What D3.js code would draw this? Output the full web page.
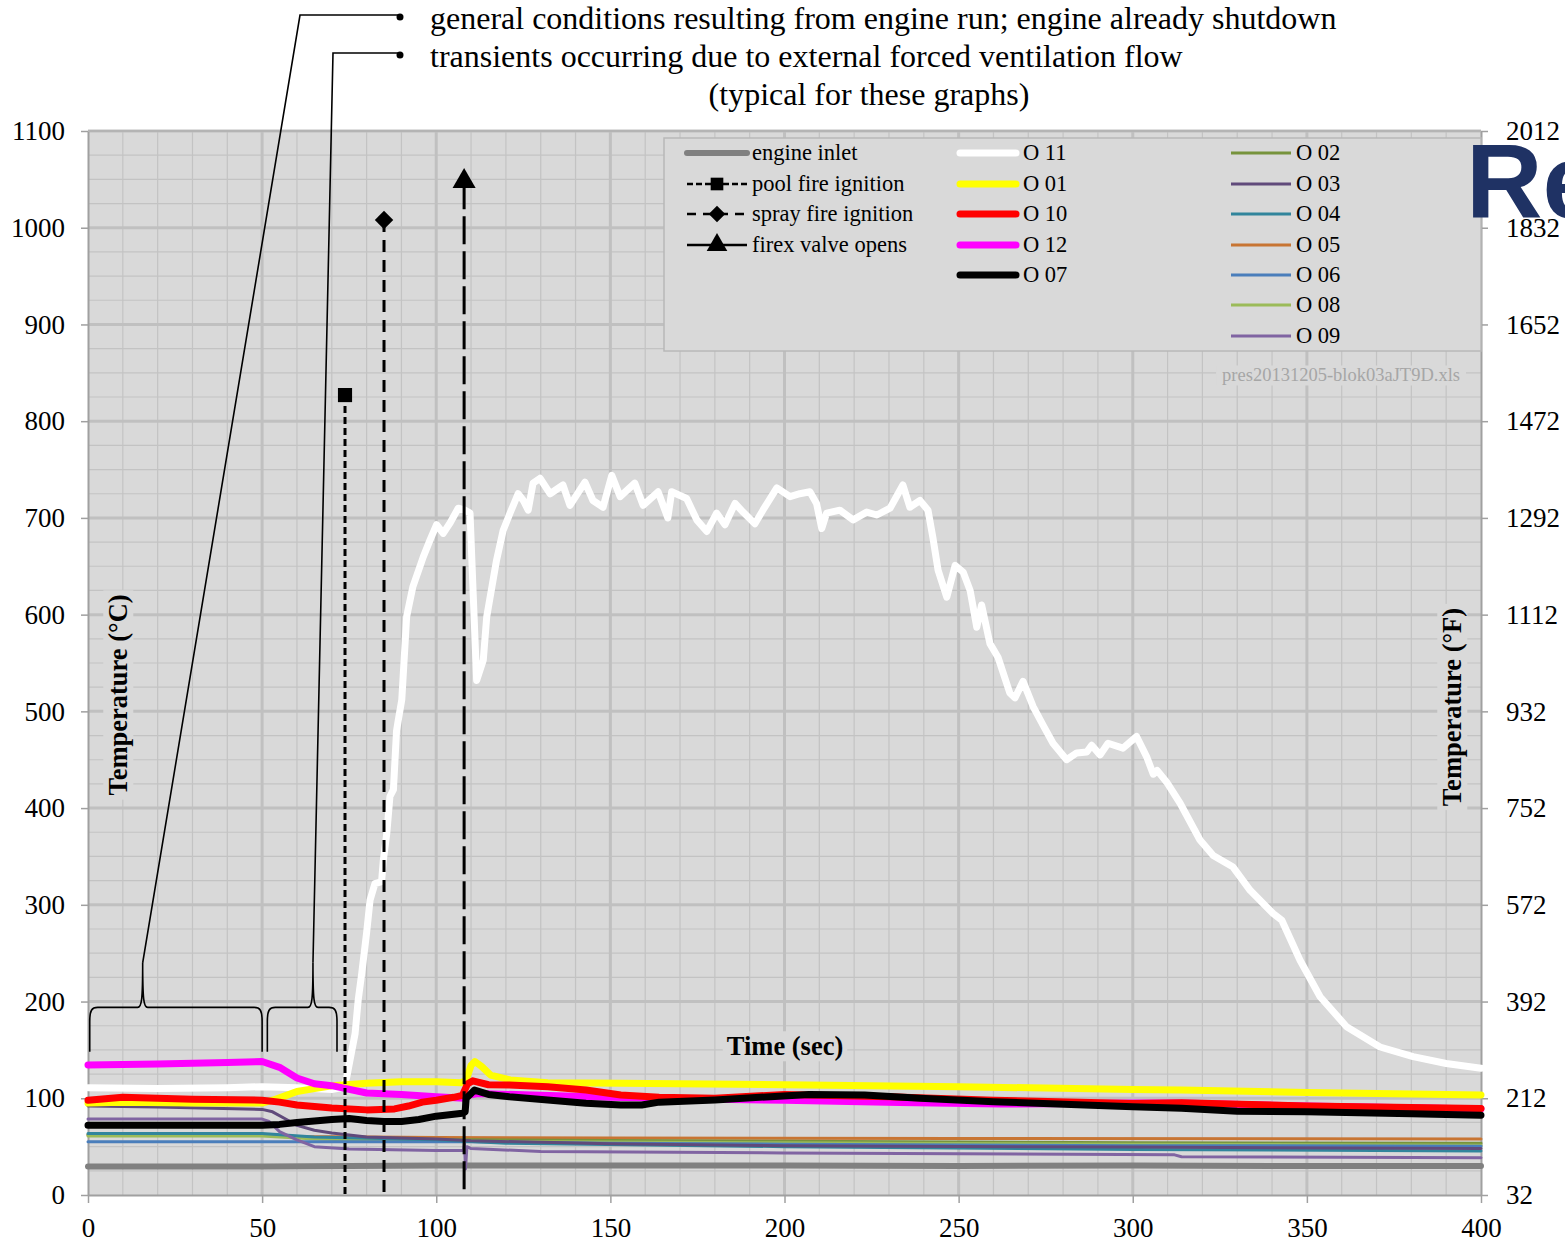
<!DOCTYPE html>
<html>
<head>
<meta charset="utf-8">
<script src="https://cdn.jsdelivr.net/npm/d3@7"></script>
<style>
  body { margin: 0; background: #fff; }
  svg { display: block; }
</style>
</head>
<body>
<svg class="svg"></svg>
<script>
// [time (sec), temperature (°C)]
const o11 = [[0,111],[20,110],[40,111],[50,112],[60,111],[70,109],[73,111],[74,118],[74.3,122],[76.7,167],[77.6,202],[78.6,229],[80,271],[81,305],[82.4,322],[84.3,324],[84.8,346],[85.8,374],[86.7,412],[87.7,419],[88.6,480],[89.1,491],[90.1,512],[91.5,598],[93.3,629],[96.3,660],[98.2,677],[100.1,693],[102,684],[104,695],[106.3,710],[108.3,708],[109.7,705],[110.6,622],[111.6,532],[113.5,553],[114.5,598],[117.3,656],[119.2,687],[121.2,705],[123.5,725],[125,718],[126.4,708],[127.8,736],[129.8,741],[132.7,725],[136.4,734],[138.4,713],[142.7,737],[145,718],[147.9,711],[150.4,744],[152.8,722],[157,736],[159.4,713],[163.7,727],[166.5,700],[167.6,727],[171.9,720],[174.8,698],[177.7,686],[180.5,705],[182.9,693],[185.8,715],[188.1,706],[191.5,694],[193.8,708],[197.8,731],[201.6,722],[204.4,725],[207.3,727],[209.2,715],[210.7,689],[212.1,705],[215.9,708],[219.7,698],[223.6,706],[226.5,703],[230.3,710],[234,734],[236,711],[238.9,718],[241.2,708],[242.6,680],[244.1,646],[246.6,618],[249,651],[251.3,644],[253.3,625],[255.2,587],[256.6,610],[259,570],[261.3,556],[264.7,519],[266.2,514],[268.5,531],[271.4,505],[274.2,486],[277.1,467],[281,450],[283.9,457],[286.8,458],[288.2,465],[290.6,455],[292.9,467],[297.2,462],[301.1,474],[304,453],[305.9,435],[307,439],[309.7,427],[313.6,405],[319.3,367],[323.1,351],[328.8,339],[333.7,315],[340.3,291],[342.8,284],[348,243],[353.8,205],[361.4,174],[371,153],[380.5,143],[390,136],[400,131]];
const o01 = [[0,95],[10,96],[30,95],[50,95],[53,98],[57,103],[60,107],[65,110],[70,113],[80,115.5],[90,117],[100,117],[107,116],[108.5,118],[110,134],[111.1,138],[113,133],[115.6,124],[121.2,119],[132,116],[153,115.5],[200,114],[250,112],[300,109],[314,108.5],[350,106],[400,103.5]];
const o10 = [[0,98],[10,101],[30,99],[50,98],[55,96],[60,93],[70,90],[80,88],[88,89],[92,92],[96,96],[100,98],[105,101],[107.5,103],[109,115],[110.5,118],[115,114],[121,113.7],[132,112],[143,108.5],[153,103.4],[164,101],[180,100],[200,104],[230,101.5],[260,98],[300,94.5],[314,95.5],[350,92],[400,89.5]];
const o12 = [[0,134.5],[20,135.5],[40,137],[50,138],[55,132],[60,121],[65,115],[70,113],[80,105.5],[90,104],[100,101.5],[108,100],[109,103],[112,105],[130,103],[150,101],[180,99],[200,98],[233,95.5],[262,94],[300,95],[314,95],[350,92],[400,89]];
const o07 = [[0,72],[50,72],[55,73],[60,75],[70,78],[75,79],[80,77],[85,76],[90,76],[95,78],[100,81.5],[107.5,84.5],[108.3,86],[108.6,100],[110,105],[111,108.5],[115,104],[121,101.6],[132,98.2],[143,94.8],[153,93],[159,93],[164,96],[180,98.2],[196,101.6],[207,104],[223,103.4],[239,100],[260,96.5],[300,91.3],[314,89.6],[330,86.5],[350,86],[380,84],[400,82.5]];
const engineInlet = [[0,29.5],[50,29.5],[100,30.5],[150,30.5],[200,30.5],[250,30],[300,30.5],[350,30],[400,30]];
const o02 = [[0,62.5],[50,62.5],[55,61],[65,59],[80,57.5],[110,57],[200,55.5],[300,54],[400,53.5]];
const o03 = [[0,92],[20,91],[50,88.5],[53,86],[57,78],[60,72],[65,67],[70,64],[80,60],[100,58],[110,56],[150,53],[200,51],[300,49.5],[400,48]];
const o04 = [[0,63.5],[50,63.5],[65,60],[100,57],[120,53.5],[200,50],[300,47],[400,45.5]];
const o05 = [[0,62],[50,62],[60,60.5],[100,59.5],[150,59],[250,58.5],[400,58]];
const o06 = [[0,55],[50,55],[110,55],[150,53.5],[200,52.5],[300,51],[400,50.5]];
const o08 = [[0,61],[50,61],[55,60],[65,58],[80,56.5],[110,55.5],[200,54],[300,52.5],[400,51.5]];
const o09 = [[0,78.5],[50,78.5],[52,76],[55,65.5],[60,57],[65,50],[75,47.5],[100,46],[107.8,46],[108.1,54],[108.4,27],[108.8,50],[110,48],[130,45],[200,43.5],[312,41.5],[314,39.5],[400,38.5]];

// events: time of the vertical line and height of its marker (°C)
const eventNames = ["pool fire ignition", "spray fire ignition", "firex valve opens"];
const eventTimes = [73.8, 85.0, 108.0];
const eventTops = [827, 1008, 1048];

const xTicks = [0, 50, 100, 150, 200, 250, 300, 350, 400];
const yTicks = [0, 100, 200, 300, 400, 500, 600, 700, 800, 900, 1000, 1100];

// brace spans (sec) and tip
const braces = [[0.5, 50, 15.7], [51.5, 71.5, 64.6]];

const W = 1565, H = 1246;
const margin = { top: 131, right: 84, bottom: 51, left: 88 };
const serif = "'Liberation Serif', 'Times New Roman', serif";

const series = [
  { name: "engine inlet", data: engineInlet, color: "#808080", width: 6 },
  { name: "O 05", data: o05, color: "#c87533", width: 3 },
  { name: "O 02", data: o02, color: "#77933c", width: 3 },
  { name: "O 08", data: o08, color: "#9bbb59", width: 3 },
  { name: "O 06", data: o06, color: "#4a7ebb", width: 3 },
  { name: "O 04", data: o04, color: "#31859c", width: 3 },
  { name: "O 03", data: o03, color: "#604a7b", width: 3 },
  { name: "O 09", data: o09, color: "#8064a2", width: 3 },
  { name: "O 11", data: o11, color: "#ffffff", width: 7 },
  { name: "O 01", data: o01, color: "#ffff00", width: 7 },
  { name: "O 12", data: o12, color: "#ff00ff", width: 7 },
  { name: "O 10", data: o10, color: "#ff0000", width: 7 },
  { name: "O 07", data: o07, color: "#000000", width: 7 }
];
const byName = Object.fromEntries(series.map(s => [s.name, s]));

const eventStyle = [
  { dash: "7,4", symbol: d3.symbolSquare, size: 200, rotate: 0, ldash: "6,3" },
  { dash: "12,8", symbol: d3.symbolSquare, size: 170, rotate: 45, ldash: "9,7" },
  { dash: "28,7", symbol: d3.symbolTriangle, size: 230, rotate: 0, ldash: "" }
];

const x = d3.scaleLinear().domain([0, 400]).range([margin.left, W - margin.right]);
const y = d3.scaleLinear().domain([0, 1100]).range([H - margin.bottom, margin.top]);

const svg = d3.select(".svg")
  .attr("width", W)
  .attr("height", H)
  .attr("font-family", serif);

// plot background and grid
svg.append("rect")
  .attr("x", x(0)).attr("y", y(1100))
  .attr("width", x(400) - x(0)).attr("height", y(0) - y(1100))
  .attr("fill", "#d9d9d9");

const grid = svg.append("g");
grid.selectAll(".vmin").data(d3.range(10, 400, 10).filter(d => d % 50)).join("line")
  .attr("x1", d => x(d)).attr("x2", d => x(d))
  .attr("y1", y(0)).attr("y2", y(1100))
  .attr("stroke", "#c3c3c3").attr("stroke-width", 1.2);
grid.selectAll(".hmin").data(d3.range(25, 1100, 25).filter(d => d % 100)).join("line")
  .attr("y1", d => y(d)).attr("y2", d => y(d))
  .attr("x1", x(0)).attr("x2", x(400))
  .attr("stroke", "#c3c3c3").attr("stroke-width", 1.2);
grid.selectAll(".vmaj").data(xTicks.slice(1, -1)).join("line")
  .attr("x1", d => x(d)).attr("x2", d => x(d))
  .attr("y1", y(0)).attr("y2", y(1100))
  .attr("stroke", "#c0c0c0").attr("stroke-width", 3);
grid.selectAll(".hmaj").data(yTicks.slice(1)).join("line")
  .attr("y1", d => y(d)).attr("y2", d => y(d))
  .attr("x1", x(0)).attr("x2", x(400))
  .attr("stroke", "#c0c0c0").attr("stroke-width", 3);

// axes
function styleAxis(g) {
  g.select(".domain").attr("stroke", "#a0a0a0").attr("stroke-width", 2);
  g.selectAll(".tick line").attr("stroke", "#a0a0a0").attr("stroke-width", 1.5);
  g.selectAll(".tick text").attr("font-family", serif).attr("font-size", 27).attr("fill", "#000");
}
svg.append("g")
  .attr("transform", `translate(${x(0)},0)`)
  .call(d3.axisLeft(y).tickValues(yTicks).tickFormat(d3.format("d")).tickSize(7).tickSizeOuter(0).tickPadding(16))
  .call(styleAxis);
svg.append("g")
  .attr("transform", `translate(${x(400)},0)`)
  .call(d3.axisRight(y).tickValues(yTicks).tickFormat(d => Math.round(d * 1.8 + 32)).tickSize(7).tickSizeOuter(0).tickPadding(18))
  .call(styleAxis);
svg.append("g")
  .attr("transform", `translate(0,${y(0)})`)
  .call(d3.axisBottom(x).tickValues(xTicks).tickSize(8).tickSizeOuter(0).tickPadding(15))
  .call(styleAxis);
svg.append("line")
  .attr("x1", x(0)).attr("x2", x(400)).attr("y1", y(1100)).attr("y2", y(1100))
  .attr("stroke", "#b4b4b4").attr("stroke-width", 2);

// axis titles with plot-coloured backing
function label(text, px, py, rot) {
  const g = svg.append("g").attr("transform", `translate(${px},${py}) rotate(${rot})`);
  const t = g.append("text")
    .attr("text-anchor", "middle").attr("dy", "0.35em")
    .attr("font-size", 26.5).attr("font-weight", "bold").text(text);
  const b = t.node().getBBox();
  g.insert("rect", "text").attr("x", b.x - 4).attr("y", b.y).attr("width", b.width + 8).attr("height", b.height).attr("fill", "#d9d9d9");
}
label("Temperature (°C)", 118, 695, -90);
label("Temperature (°F)", 1452, 707, -90);
label("Time (sec)", 785, 1046, 0);

// legend box
const lg = svg.append("g");
lg.append("rect").attr("x", 664).attr("y", 138).attr("width", 817).attr("height", 213)
  .attr("fill", "#d9d9d9").attr("stroke", "#b8b8b8").attr("stroke-width", 1.5);

const wm = svg.append("g");
const wmt = wm.append("text").attr("x", 1460).attr("y", 375).attr("dy", "0.35em")
  .attr("text-anchor", "end").attr("font-size", 18.5).attr("fill", "#a6a6a6")
  .text("pres20131205-blok03aJT9D.xls");
const wb = wmt.node().getBBox();
wm.insert("rect", "text").attr("x", wb.x - 6).attr("y", wb.y).attr("width", wb.width + 12).attr("height", wb.height).attr("fill", "#d9d9d9");

// series lines
const line = d3.line().x(d => x(d[0])).y(d => y(d[1]));
svg.append("g").selectAll("path").data(series).join("path")
  .attr("d", d => line(d.data))
  .attr("fill", "none")
  .attr("stroke", d => d.color)
  .attr("stroke-width", d => d.width)
  .attr("stroke-linejoin", "round")
  .attr("stroke-linecap", "round");

// event lines and markers
const ev = svg.append("g");
eventTimes.forEach((t, i) => {
  const st = eventStyle[i];
  ev.append("line")
    .attr("x1", x(t)).attr("x2", x(t))
    .attr("y1", y(eventTops[i])).attr("y2", y(0))
    .attr("stroke", "#000").attr("stroke-width", 3)
    .attr("stroke-dasharray", st.dash);
  ev.append("path")
    .attr("d", d3.symbol(st.symbol, st.size)())
    .attr("transform", `translate(${x(t)},${y(eventTops[i])}) rotate(${st.rotate})`)
    .attr("fill", "#000");
});

// legend entries
const rowY = [153, 184, 214, 245, 275, 305, 336];
const col1 = ["engine inlet"].concat(eventNames);
const col2 = ["O 11", "O 01", "O 10", "O 12", "O 07"];
const col3 = ["O 02", "O 03", "O 04", "O 05", "O 06", "O 08", "O 09"];
function legendText(px, py, text) {
  lg.append("text").attr("x", px).attr("y", py).attr("dy", "0.33em")
    .attr("font-size", 22.5).attr("fill", "#000").text(text);
}
col1.forEach((n, i) => {
  const py = rowY[i];
  if (i === 0) {
    const s = byName[n];
    lg.append("line").attr("x1", 687).attr("x2", 747).attr("y1", py).attr("y2", py)
      .attr("stroke", s.color).attr("stroke-width", s.width).attr("stroke-linecap", "round");
  } else {
    const st = eventStyle[i - 1];
    lg.append("line").attr("x1", 687).attr("x2", 747).attr("y1", py).attr("y2", py)
      .attr("stroke", "#000").attr("stroke-width", 2.5).attr("stroke-dasharray", st.ldash);
    lg.append("path").attr("d", d3.symbol(st.symbol, st.size * 0.8)())
      .attr("transform", `translate(717,${py}) rotate(${st.rotate})`).attr("fill", "#000");
  }
  legendText(752, py, n);
});
col2.forEach((n, i) => {
  const s = byName[n];
  lg.append("line").attr("x1", 960).attr("x2", 1016).attr("y1", rowY[i]).attr("y2", rowY[i])
    .attr("stroke", s.color).attr("stroke-width", s.width).attr("stroke-linecap", "round");
  legendText(1023, rowY[i], n);
});
col3.forEach((n, i) => {
  const s = byName[n];
  lg.append("line").attr("x1", 1231).attr("x2", 1291).attr("y1", rowY[i]).attr("y2", rowY[i])
    .attr("stroke", s.color).attr("stroke-width", s.width);
  legendText(1296, rowY[i], n);
});

// braces with leader lines
const ann = svg.append("g").attr("fill", "none").attr("stroke", "#000").attr("stroke-width", 1.6);
const braceLow = 148, braceMid = 194, braceTip = 240;
braces.forEach(([a, b, tip]) => {
  const x0 = x(a), x1 = x(b), xt = x(tip);
  const yb = y(braceLow), yh = y(braceMid), yt = y(braceTip);
  ann.append("path").attr("d",
    `M${x0},${yb} L${x0},${yh + 14} C${x0},${yh + 3} ${x0 + 2},${yh} ${x0 + 8},${yh}` +
    ` L${xt - 5},${yh} C${xt - 1},${yh} ${xt},${yh - 8} ${xt},${yt}` +
    ` C${xt},${yh - 8} ${xt + 1},${yh} ${xt + 5},${yh}` +
    ` L${x1 - 8},${yh} C${x1 - 2},${yh} ${x1},${yh + 3} ${x1},${yh + 14} L${x1},${yb}`);
});
const leaders = [[300, 15], [333, 53]];
leaders.forEach(([cx, cy], i) => {
  ann.append("polyline")
    .attr("points", `${x(braces[i][2])},${y(braceTip)} ${cx},${cy} 400,${cy}`);
  svg.append("circle").attr("cx", 400).attr("cy", cy + 2).attr("r", 3.5).attr("fill", "#000");
});

const notes = svg.append("g").attr("font-size", 32).attr("fill", "#000");
notes.append("text").attr("x", 430).attr("y", 29).text("general conditions resulting from engine run; engine already shutdown");
notes.append("text").attr("x", 430).attr("y", 67).text("transients occurring due to external forced ventilation flow");
notes.append("text").attr("x", 869).attr("y", 105).attr("text-anchor", "middle").text("(typical for these graphs)");

// slide title fragment on top
svg.append("text").attr("x", 1466).attr("y", 218)
  .attr("font-family", "'Liberation Sans', Arial, sans-serif")
  .attr("font-weight", "bold").attr("font-size", 106).attr("fill", "#1f3264")
  .text("Re");
</script>
</body>
</html>
